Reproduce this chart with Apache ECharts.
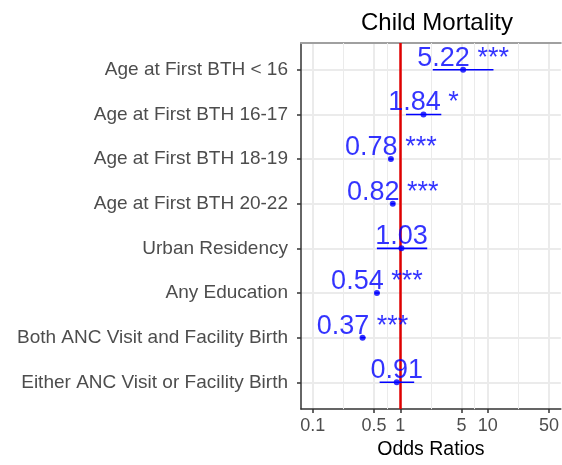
<!DOCTYPE html>
<html>
<head>
<meta charset="utf-8">
<script src="https://cdn.jsdelivr.net/npm/echarts@6/dist/echarts.min.js"></script>
<style>
  html, body { margin: 0; padding: 0; background: #fff; }
  #chart { width: 562px; height: 465px; }
</style>
</head>
<body>
<div id="chart"></div>
<script>
// rows top to bottom
var categories = [
  'Age at First BTH < 16',
  'Age at First BTH 16-17',
  'Age at First BTH 18-19',
  'Age at First BTH 20-22',
  'Urban Residency',
  'Any Education',
  'Both ANC Visit and Facility Birth',
  'Either ANC Visit or Facility Birth'
]
var oddsRatio = [5.22, 1.84, 0.78, 0.82, 1.03, 0.54, 0.37, 0.91]
var ciLow = [2.35, 1.16, 0.74, 0.78, 0.54, 0.51, 0.35, 0.58]
var ciHigh = [11.6, 2.94, 0.83, 0.87, 2.03, 0.58, 0.40, 1.44]
var stars = ['***', '*', '***', '***', '', '***', '***', '']
var xBreaks = [0.1, 0.5, 1, 5, 10, 50]

var font = 'Liberation Sans, Arial, sans-serif'
var lg = function (v) { return Math.log10(v) }

var rows = categories.map(function (c, i) { return i + 1 })
var logBreaks = xBreaks.map(lg)
var minorBreaks = []
for (var k = 0; k < logBreaks.length - 1; k++) {
  minorBreaks.push((logBreaks[k] + logBreaks[k + 1]) / 2)
}

var pointData = oddsRatio.map(function (v, i) {
  return { value: [lg(v), i + 1], txt: v.toFixed(2) + (stars[i] ? ' ' + stars[i] : '') }
})
var ciData = oddsRatio.map(function (v, i) {
  return [lg(ciLow[i]), lg(ciHigh[i]), i + 1]
})

var chart = echarts.init(document.getElementById('chart'))
chart.setOption({
  animation: false,
  title: {
    text: 'Child Mortality',
    left: 432,
    top: 6,
    textAlign: 'center',
    textStyle: { fontFamily: font, fontSize: 24, fontWeight: 'normal', color: '#000' }
  },
  grid: { left: 301, top: 43, width: 263, height: 370 },
  xAxis: [{
    type: 'value',
    min: -1.135,
    max: 1.834,
    name: 'Odds Ratios',
    nameLocation: 'middle',
    nameGap: 28,
    nameTextStyle: { fontFamily: font, fontSize: 19.5, color: '#000' },
    axisLine: { show: true, onZero: false, lineStyle: { color: '#333', width: 1.5 } },
    axisTick: { show: true, length: 4, customValues: logBreaks, lineStyle: { color: '#333', width: 1.5 } },
    axisLabel: {
      customValues: logBreaks,
      margin: 8,
      fontFamily: font, fontSize: 18, color: '#4d4d4d',
      formatter: function (v) {
        for (var j = 0; j < logBreaks.length; j++) {
          if (Math.abs(logBreaks[j] - v) < 1e-6) return String(xBreaks[j])
        }
        return ''
      }
    },
    splitLine: { show: true, lineStyle: { color: '#ebebeb', width: 2 } }
  }, {
    // top edge of the panel
    type: 'value',
    position: 'top',
    min: -1.135,
    max: 1.834,
    axisLine: { show: true, onZero: false, lineStyle: { color: '#a0a0a0', width: 2 } },
    axisTick: { show: false },
    axisLabel: { show: false },
    splitLine: { show: false }
  }],
  yAxis: {
    type: 'value',
    min: 0.4,
    max: 8.6,
    inverse: true,
    axisLine: { show: true, onZero: false, lineStyle: { color: '#333', width: 1.5 } },
    axisTick: { show: true, length: 4, customValues: rows, lineStyle: { color: '#333', width: 1.5 } },
    axisLabel: {
      customValues: rows,
      margin: 13,
      fontFamily: font, fontSize: 19, color: '#4d4d4d',
      formatter: function (v) { return categories[Math.round(v) - 1] || '' }
    },
    splitLine: { show: true, lineStyle: { color: '#ebebeb', width: 2 } }
  },
  series: [
    {
      // minor vertical grid lines
      type: 'scatter',
      data: [],
      silent: true,
      z: 1,
      markLine: {
        z: 1,
        silent: true,
        symbol: 'none',
        label: { show: false },
        lineStyle: { color: '#ebebeb', width: 1, type: 'solid' },
        data: minorBreaks.map(function (m) { return { xAxis: m } })
      }
    },
    {
      // reference line at OR = 1
      type: 'scatter',
      data: [],
      silent: true,
      z: 2,
      markLine: {
        z: 2,
        silent: true,
        symbol: 'none',
        label: { show: false },
        lineStyle: { color: '#e00000', width: 2.5, type: 'solid' },
        data: [{ xAxis: 0 }]
      }
    },
    {
      type: 'custom',
      z: 3,
      data: ciData,
      renderItem: function (params, api) {
        var a = api.coord([api.value(0), api.value(2)])
        var b = api.coord([api.value(1), api.value(2)])
        return {
          type: 'line',
          shape: { x1: a[0], y1: a[1], x2: b[0], y2: b[1] },
          style: { stroke: '#0000ff', lineWidth: 1.6 }
        }
      }
    },
    {
      type: 'scatter',
      z: 4,
      data: pointData,
      symbol: 'circle',
      symbolSize: 6,
      itemStyle: { color: '#0000ff' },
      label: {
        show: true,
        position: 'top',
        distance: -5,
        fontFamily: font,
        fontSize: 27,
        color: '#0000ff',
        textBorderWidth: 0,
        formatter: function (p) { return p.data.txt }
      },
      labelLayout: { hideOverlap: false }
    }
  ]
})
</script>
</body>
</html>
